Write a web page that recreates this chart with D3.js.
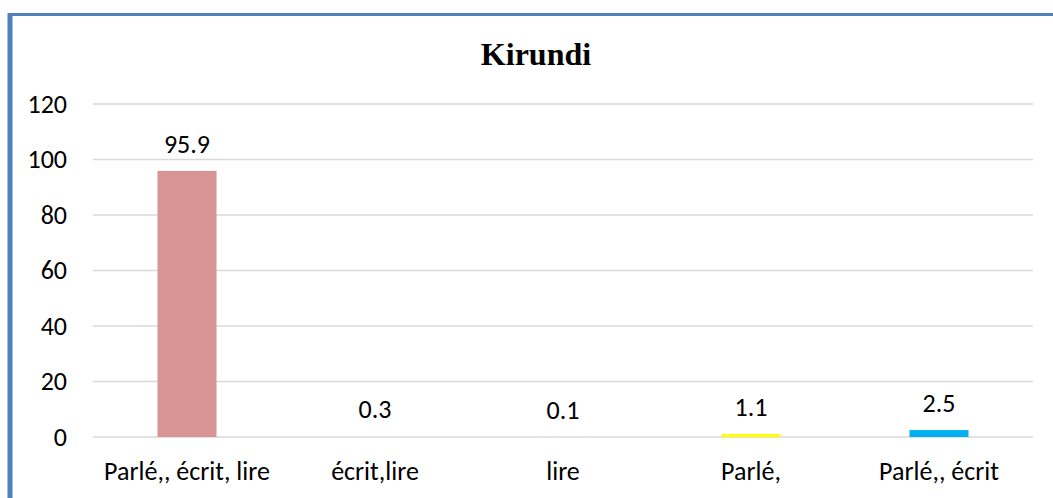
<!DOCTYPE html>
<html>
<head>
<meta charset="utf-8">
<script src="https://cdn.jsdelivr.net/npm/d3@7"></script>
<style>
  body { margin: 0; background: #fff; }
  svg text { font-family: Carlito, Lato, "Liberation Sans", sans-serif; }
</style>
</head>
<body>
<div class="chart"></div>
<script>
// chart data
var categories = ["Parlé,, écrit, lire", "écrit,lire", "lire", "Parlé,", "Parlé,, écrit"];
var values = [95.9, 0.3, 0.1, 1.1, 2.5];
var barColors = ["#D99594", "#DCE6F2", "#F2F2F2", "#FFFF00", "#00B0F0"];
var yTicks = [0, 20, 40, 60, 80, 100, 120];
var title = "Kirundi";

var width = 1053, height = 498;
var margin = { top: 104, right: 20, bottom: 61, left: 93 };
var fontSize = "26px";

var svg = d3.select(".chart")
    .append("svg")
    .attr("width", width)
    .attr("height", height);

// frame
svg.append("line")
    .attr("x1", 10).attr("x2", width)
    .attr("y1", 14.5).attr("y2", 14.5)
    .style("stroke", "#4F81BD")
    .style("stroke-width", 3);
svg.append("line")
    .attr("x1", 10).attr("x2", 10)
    .attr("y1", 13).attr("y2", height)
    .style("stroke", "#4F81BD")
    .style("stroke-width", 5);

var x = d3.scaleBand()
    .domain(categories)
    .range([margin.left, width - margin.right])
    .paddingInner(0.686)
    .paddingOuter(0.343);

var y = d3.scaleLinear()
    .domain([0, 120])
    .range([height - margin.bottom, margin.top]);

// gridlines
svg.append("g")
    .selectAll("line")
    .data(yTicks)
    .enter().append("line")
    .attr("x1", margin.left)
    .attr("x2", width - margin.right)
    .attr("y1", function(d) { return y(d); })
    .attr("y2", function(d) { return y(d); })
    .style("stroke", "#D9D9D9")
    .style("stroke-width", 1.5);

// y axis
var yAxis = svg.append("g")
    .attr("transform", "translate(" + (margin.left - 26) + ",0)")
    .call(d3.axisLeft(y).tickValues(yTicks).tickSize(0).tickPadding(0));
yAxis.select(".domain").remove();
yAxis.selectAll("text")
    .style("font-size", fontSize)
    .style("fill", "#000");

// bars
svg.append("g")
    .selectAll("rect")
    .data(values)
    .enter().append("rect")
    .attr("x", function(d, i) { return x(categories[i]); })
    .attr("width", x.bandwidth())
    .attr("y", function(d) { return y(d); })
    .attr("height", function(d) { return y(0) - y(d); })
    .style("fill", function(d, i) { return barColors[i]; });

// value labels
svg.append("g")
    .selectAll("text")
    .data(values)
    .enter().append("text")
    .attr("x", function(d, i) { return x(categories[i]) + x.bandwidth() / 2; })
    .attr("y", function(d) { return y(d) - 18; })
    .attr("text-anchor", "middle")
    .style("font-size", fontSize)
    .text(function(d) { return d; });

// x axis
var xAxis = svg.append("g")
    .attr("transform", "translate(0," + (height - margin.bottom) + ")")
    .call(d3.axisBottom(x).tickSize(0).tickPadding(0));
xAxis.select(".domain").remove();
xAxis.selectAll("text")
    .attr("dy", 0)
    .attr("y", 43)
    .style("font-size", fontSize)
    .style("fill", "#000");

// title
svg.append("text")
    .attr("x", 536)
    .attr("y", 65)
    .attr("text-anchor", "middle")
    .style("font-family", "'Liberation Serif', 'Times New Roman', serif")
    .style("font-weight", "bold")
    .style("font-size", "32px")
    .text(title);
</script>
</body>
</html>
